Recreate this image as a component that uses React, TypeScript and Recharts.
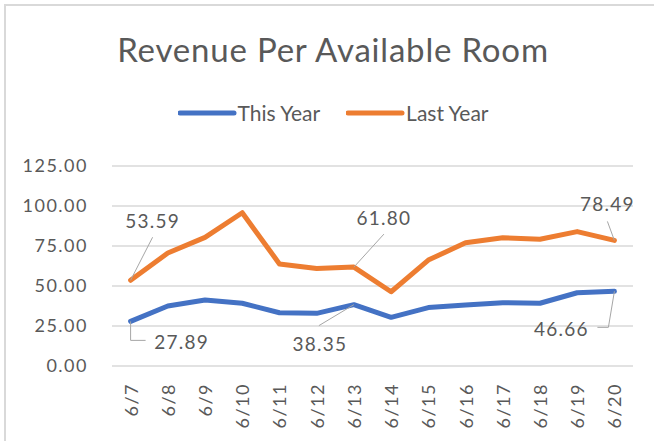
import React from 'react';
import { LineChart, Line, XAxis, YAxis, CartesianGrid, Legend, LabelList } from 'recharts';

const dates = ['6/7', '6/8', '6/9', '6/10', '6/11', '6/12', '6/13', '6/14', '6/15', '6/16', '6/17', '6/18', '6/19', '6/20'];
const thisYear = [27.89, 37.5, 41.2, 39.2, 33.3, 32.9, 38.35, 30.4, 36.5, 38.1, 39.6, 39.2, 45.8, 46.66];
const lastYear = [53.59, 70.6, 80.4, 95.8, 63.8, 61.0, 61.8, 46.4, 66.2, 77.0, 80.2, 79.2, 84.0, 78.49];
const yTicks = [0, 25, 50, 75, 100, 125];
const seriesNames = ['This Year', 'Last Year'];
const title = 'Revenue Per Available Room';

const data = dates.map((d, i) => ({ date: d, thisYear: thisYear[i], lastYear: lastYear[i] }));

const FONT = 'Lato, "Open Sans", sans-serif';
const TEXT = '#595959';
const BLUE = '#4472C4';
const ORANGE = '#ED7D31';

type Callout = { tx: number; ty: number; path: [number, number][] };
const thisCallouts: Record<number, Callout> = {
  0: { tx: 51, ty: 20, path: [[0, 0], [0, 19], [15, 19]] },
  6: { tx: -34, ty: 39, path: [[0, 0], [-35, 21]] },
  13: { tx: -53, ty: 37, path: [[0, 0], [-6, 36], [-17, 36]] },
};
const lastCallouts: Record<number, Callout> = {
  0: { tx: 22, ty: -60, path: [[0, 0], [22, -43]] },
  6: { tx: 30, ty: -50, path: [[0, 0], [30, -33]] },
  13: { tx: -7, ty: -37, path: [[0, 0], [-7, -19]] },
};

const makeLabel = (callouts: Record<number, Callout>) => (props: any) => {
  const { x, y, value, index } = props;
  const c = callouts[index];
  if (!c || x == null || y == null) return null;
  const pts = c.path.map(([dx, dy]) => `${x + dx},${y + dy}`).join(' ');
  return (
    <g>
      <polyline points={pts} fill="none" stroke="#a6a6a6" strokeWidth={1} />
      <text
        x={x + c.tx}
        y={y + c.ty}
        textAnchor="middle"
        dominantBaseline="central"
        fontFamily={FONT}
        fontSize={19}
        letterSpacing={1.2}
        fill={TEXT}
      >
        {Number(value).toFixed(2)}
      </text>
    </g>
  );
};

const XTick = (props: any) => {
  const { x, y, payload } = props;
  return (
    <text
      transform={`translate(${x},${y + 17}) rotate(-90)`}
      textAnchor="end"
      dominantBaseline="central"
      fontFamily={FONT}
      fontSize={18}
      letterSpacing={1.5}
      fill={TEXT}
    >
      {payload.value}
    </text>
  );
};

const LegendContent = () => {
  const colors = [BLUE, ORANGE];
  return (
    <div style={{ display: 'flex', justifyContent: 'center', gap: 26, fontFamily: FONT, fontSize: 21, color: TEXT }}>
      {seriesNames.map((n, i) => (
        <div key={n} style={{ display: 'flex', alignItems: 'center' }}>
          <svg width={60} height={10}>
            <line x1={2} y1={5} x2={56} y2={5} stroke={colors[i]} strokeWidth={5} strokeLinecap="round" />
          </svg>
          <span>{n}</span>
        </div>
      ))}
    </div>
  );
};

export default function App() {
  return (
    <div style={{ position: 'absolute', left: 0, top: 0, width: 654, height: 441, background: '#fff', overflow: 'hidden' }}>
      <div style={{ position: 'absolute', left: 4, top: 4, width: 700, height: 500, borderLeft: '2px solid #d9d9d9', borderTop: '2px solid #d9d9d9' }} />
      <div
        style={{
          position: 'absolute',
          left: 0,
          top: 27,
          width: 666,
          textAlign: 'center',
          fontFamily: FONT,
          fontSize: 33,
          letterSpacing: 0.8,
          color: TEXT,
          lineHeight: '44px',
        }}
      >
        {title}
      </div>
      <LineChart width={654} height={441} data={data} margin={{ top: 166, right: 21, bottom: 0, left: 0 }}>
        <CartesianGrid vertical={false} stroke="#d9d9d9" strokeWidth={1.5} />
        <XAxis
          dataKey="date"
          height={75}
          axisLine={false}
          tickLine={false}
          tickSize={0}
          tickMargin={0}
          interval={0}
          padding={{ left: 18.6, right: 18.6 }}
          tick={<XTick />}
        />
        <YAxis
          width={112}
          domain={[0, 125]}
          ticks={yTicks}
          axisLine={false}
          tickLine={false}
          tickSize={0}
          tickMargin={24}
          tickFormatter={(v: number) => v.toFixed(2)}
          tick={{ fill: TEXT, fontFamily: FONT, fontSize: 18, letterSpacing: 1.5 } as any}
        />
        <Legend
          verticalAlign="middle"
          align="center"
          layout="horizontal"
          wrapperStyle={{ top: 100, left: 6, width: 654 }}
          content={<LegendContent />}
        />
        <Line
          type="linear"
          dataKey="thisYear"
          name={seriesNames[0]}
          stroke={BLUE}
          strokeWidth={5}
          dot={false}
          strokeLinejoin="round"
          strokeLinecap="round"
          isAnimationActive={false}
        >
          <LabelList dataKey="thisYear" content={makeLabel(thisCallouts)} />
        </Line>
        <Line
          type="linear"
          dataKey="lastYear"
          name={seriesNames[1]}
          stroke={ORANGE}
          strokeWidth={5}
          dot={false}
          strokeLinejoin="round"
          strokeLinecap="round"
          isAnimationActive={false}
        >
          <LabelList dataKey="lastYear" content={makeLabel(lastCallouts)} />
        </Line>
      </LineChart>
    </div>
  );
}
